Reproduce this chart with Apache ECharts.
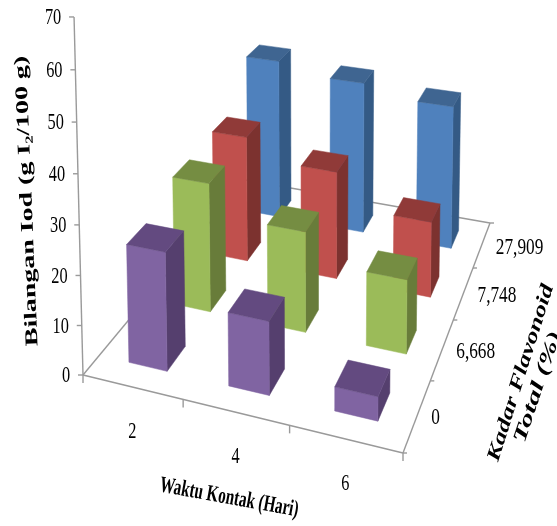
<!DOCTYPE html>
<html><head><meta charset="utf-8">
<style>html,body{margin:0;padding:0;background:#fff}#c{width:557px;height:526px}</style>
<script src="https://cdn.jsdelivr.net/npm/echarts@6/dist/echarts.min.js"></script>
</head><body><div id="c"></div>
<script>
const waktu = ['2','4','6'];
const flavonoid = ['0','6,668','7,748','27,909'];
const valueTicks = [0,10,20,30,40,50,60,70];
const nilai0 = [24,14.6,4.7];
const nilai6668 = [27.8,21.3,15.4];
const nilai7748 = [28.7,24.2,16.7];
const nilai27909 = [38.4,36,33.5];
const seriesValues = [nilai0,nilai6668,nilai7748,nilai27909];
const palette = [
 {front:'#8064A2',side:'#553F6E',top:'#634A80'},
 {front:'#9BBB59',side:'#687C3A',top:'#758D42'},
 {front:'#C0504D',side:'#7C322F',top:'#903A38'},
 {front:'#4F81BD',side:'#345A85',top:'#3F6591'}
];
const yTitle='Bilangan Iod (g I\u2082/100 g)', xTitle='Waktu Kontak (Hari)', zTitle1='Kadar Flavonoid', zTitle2='Total (%)';

// Camera: floor corners and the vanishing point of verticals
const Q=[[83,375],[403,453],[490,223],[245,180]], VP=[313,9575], S=-0.03746;
const [x0,y0]=Q[0],[x1,y1]=Q[1],[x2,y2]=Q[2],[x3,y3]=Q[3];
const dx1=x1-x2,dx2=x3-x2,sx=x0-x1+x2-x3,dy1=y1-y2,dy2=y3-y2,sy=y0-y1+y2-y3,den=dx1*dy2-dx2*dy1;
const G=(sx*dy2-dx2*sy)/den,H=(dx1*sy-sx*dy1)/den;
const A=x1-x0+G*x1,B=x3-x0+H*x3,D=y1-y0+G*y1,E=y3-y0+H*y3;
function P(u,v,w){const n=G*u+H*v+1+S*w;return [(A*u+B*v+x0+S*w*VP[0])/n,(D*u+E*v+y0+S*w*VP[1])/n];}

const BAR_U=0.13, BAR_V=0.10, DEPTH_SHIFT=0.0025, WIDTH_SHIFT=0.001;
function poly(points,fill){return {type:'polygon',shape:{points},style:{fill,stroke:fill,lineWidth:0.5}};}
function barItem(di){return function(params,api){
  const cs=params.coordSys, cat=api.value(0), val=api.value(1);
  const base=api.coord([cat,0]), top=api.coord([cat,val]);
  const uc=(base[0]-cs.x)/cs.width+WIDTH_SHIFT, w=(base[1]-top[1])/cs.height;
  const vc=(di+0.5)/flavonoid.length+DEPTH_SHIFT;
  const u0=uc-BAR_U/2,u1=uc+BAR_U/2,v0=vc-BAR_V/2,v1=vc+BAR_V/2,c=palette[di];
  return {type:'group',children:[
    poly([P(u1,v0,0),P(u1,v1,0),P(u1,v1,w),P(u1,v0,w)],c.side),
    poly([P(u0,v0,0),P(u1,v0,0),P(u1,v0,w),P(u0,v0,w)],c.front),
    poly([P(u0,v0,w),P(u1,v0,w),P(u1,v1,w),P(u0,v1,w)],c.top)
  ]};
};}
const AXC='#9a9a9a';
function seg(a,b,col,lw){return {type:'line',shape:{x1:a[0],y1:a[1],x2:b[0],y2:b[1]},style:{stroke:col||AXC,lineWidth:lw||1.4}};}
function txt(t,p,o){o=o||{};return {type:'text',x:p[0],y:p[1],rotation:o.rot||0,scaleX:o.sx||0.68,scaleY:o.sy||1,
  style:{text:t,x:0,y:0,fill:'#000',font:(o.font||'24px "Liberation Serif"'),align:o.align||'center',verticalAlign:'middle'}};}
function axesItem(params,api){
  const kids=[];
  const O=P(0,0,0),R=P(1,0,0),BK=P(1,1,0),L=P(0,1,0);
  kids.push(seg(O,R),seg(R,BK),seg(O,L),seg(L,BK),seg(O,P(0,0,1)));
  valueTicks.forEach(t=>{const p=P(0,0,t/70);kids.push(seg(p,[p[0]-5,p[1]]));
    kids.push(txt(String(t),[p[0]-21+(t==0?4:0),p[1]+1]));});
  for(let i=0;i<=waktu.length;i++){const p=P(i/waktu.length,0,0);kids.push(seg(p,[p[0],p[1]+8]));}
  waktu.forEach((t,i)=>{const p=P((i+.5)/waktu.length,0,0);kids.push(txt(t,[p[0],p[1]+45]));});
  for(let i=0;i<=flavonoid.length;i++){const p=P(1,i/flavonoid.length,0);kids.push(seg(p,[p[0]+4,p[1]]));}
  flavonoid.forEach((t,i)=>{const p=P(1,(i+.5)/flavonoid.length,0);kids.push(txt(t,[p[0]+14,p[1]+2.5],{align:'left',sx:0.72}));});
  const bold='bold 18px "Liberation Serif"', bi='italic bold 19px "Liberation Serif"';
  kids.push(txt(yTitle,[27,201],{rot:Math.PI/2+0.04,font:bold,sx:1.55,sy:1}));
  kids.push(txt(xTitle,[229,498],{rot:-0.18,font:'bold 23px "Liberation Serif"',sx:0.66,sy:1}));
  kids.push(txt(zTitle1,[521,373],{rot:1.265,font:bi,sx:1.38}));
  kids.push(txt(zTitle2,[538,387],{rot:1.25,font:bi,sx:1.6}));
  return {type:'group',children:kids};
}
const chart=echarts.init(document.getElementById('c'),null,{renderer:'canvas'});
const series=[{type:'custom',coordinateSystem:'cartesian2d',renderItem:axesItem,data:[[0,0]],silent:true,clip:false}];
for(let di=flavonoid.length-1;di>=0;di--){
  series.push({type:'custom',name:flavonoid[di],coordinateSystem:'cartesian2d',renderItem:barItem(di),
    data:seriesValues[di].map((v,i)=>[i,v]),encode:{x:0,y:1},clip:false});
}
chart.setOption({animation:false,backgroundColor:'#fff',
  grid:{left:0,top:0,width:300,height:300},
  xAxis:{type:'category',data:waktu,show:false},
  yAxis:{type:'value',min:0,max:70,interval:10,show:false},
  series});
</script></body></html>
